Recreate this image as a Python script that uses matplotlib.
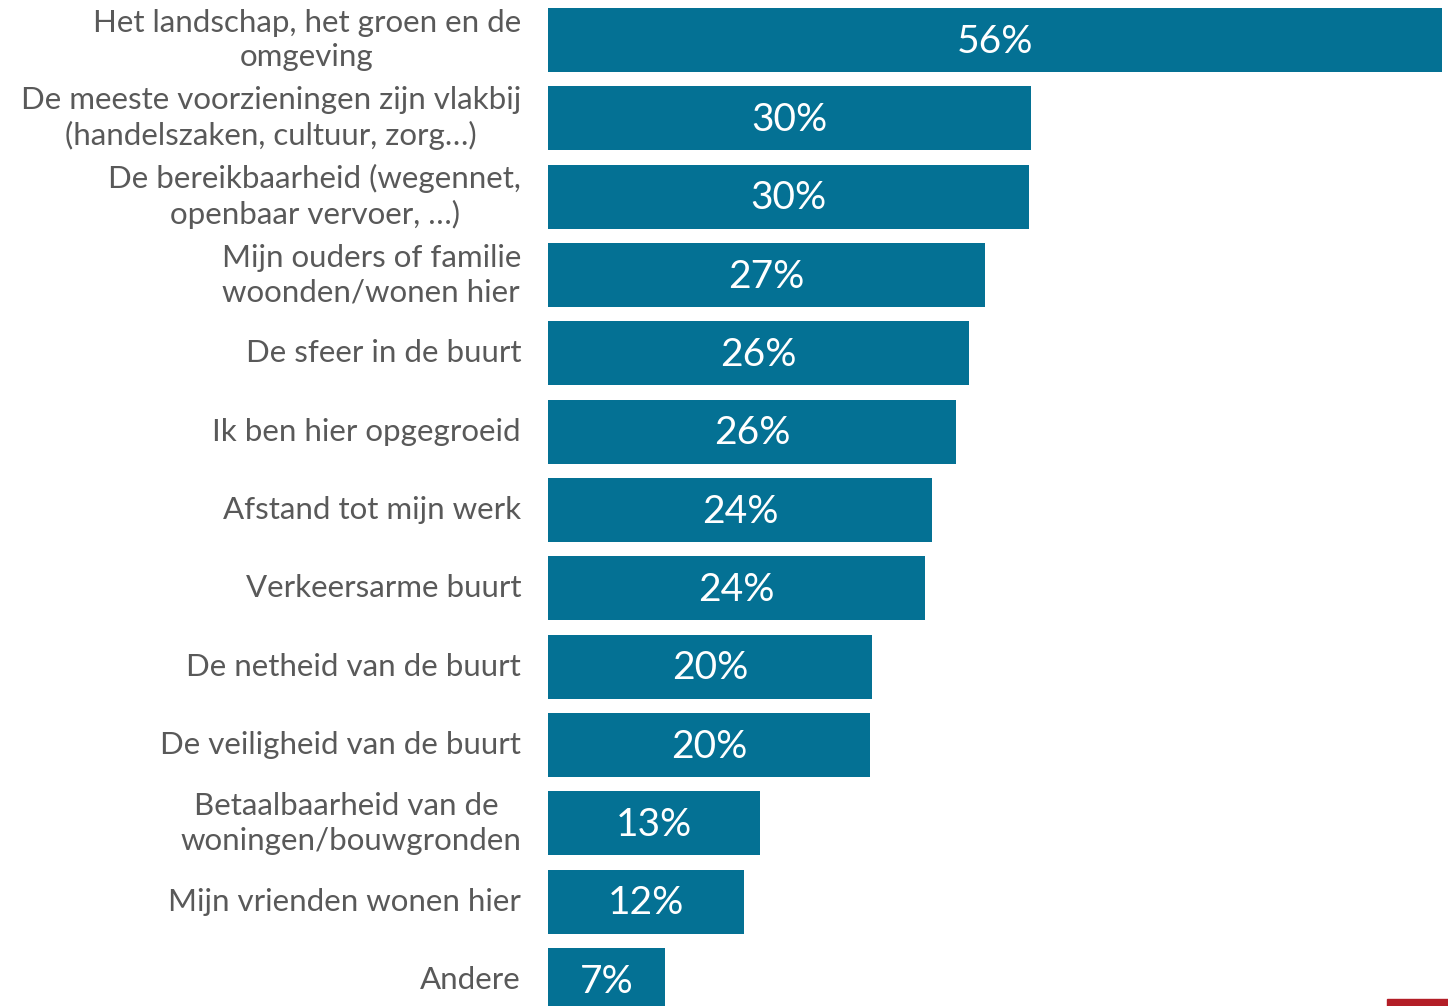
import matplotlib
matplotlib.use("Agg")
import matplotlib.pyplot as plt
from matplotlib.patches import Rectangle

categories = [
    "Het landschap, het groen en de\nomgeving",
    "De meeste voorzieningen zijn vlakbij\n(handelszaken, cultuur, zorg…)",
    "De bereikbaarheid (wegennet,\nopenbaar vervoer, …)",
    "Mijn ouders of familie\nwoonden/wonen hier",
    "De sfeer in de buurt",
    "Ik ben hier opgegroeid",
    "Afstand tot mijn werk",
    "Verkeersarme buurt",
    "De netheid van de buurt",
    "De veiligheid van de buurt",
    "Betaalbaarheid van de \nwoningen/bouwgronden",
    "Mijn vrienden wonen hier",
    "Andere",
]
values = [56.0, 30.25, 30.13, 27.37, 26.37, 25.56, 24.05, 23.6, 20.3, 20.17, 13.28, 12.28, 7.33]
value_labels = ["56%", "30%", "30%", "27%", "26%", "26%", "24%", "24%", "20%", "20%", "13%", "12%", "7%"]

W, H = 1448, 1006
fig = plt.figure(figsize=(W / 100, H / 100), dpi=100)
ax = fig.add_axes([548 / W, 0, (1442 - 548) / W, 1])

bar_color = "#047194"
ypos = list(range(len(categories)))
ax.barh(ypos, values, height=0.817, color=bar_color, edgecolor="none")
ax.set_xlim(0, 56.0)
ax.set_ylim(12.33, -0.51)

for y, v, lab in zip(ypos, values, value_labels):
    ax.text(v / 2, y + 0.02, lab, ha="center", va="center", color="white",
            fontsize=28, family="Lato")

for y, c in zip(ypos, categories):
    ax.text(-27 / ((1442 - 548) / 56.0), y, c, ha="right", va="center",
            color="#595959", fontsize=22.5, family="Lato",
            linespacing=1.3, multialignment="center" if "\n" in c else "right")

ax.axis("off")

fig.patches.append(Rectangle((1387 / W, 0), (W - 1387) / W, 7 / H,
                             transform=fig.transFigure, color="#B31E27", zorder=5))

fig.savefig("out.png", dpi=100)
